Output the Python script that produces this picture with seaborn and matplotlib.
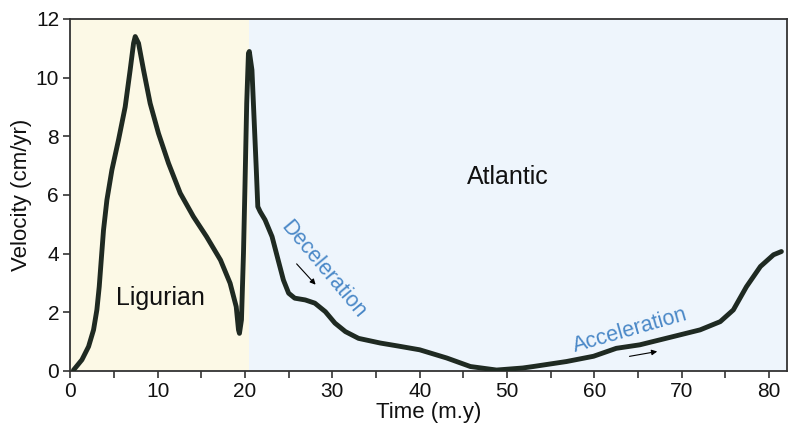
"""Velocity through time: Ligurian and Atlantic phases."""

import numpy as np
import pandas as pd
import matplotlib
import matplotlib.pyplot as plt
from matplotlib.ticker import MultipleLocator
import seaborn as sns

matplotlib.use("Agg")

# values
time_my = [0.38, 1.34, 2.1, 2.67, 3.05, 3.32, 3.55, 3.81, 4.2, 4.77, 5.53,
           6.29, 6.86, 7.25, 7.44, 7.82, 8.39, 9.15, 10.1, 11.25, 12.59,
           14.1, 15.6, 17.2, 18.3, 19.0, 19.26, 19.37, 19.6, 19.83, 20.0,
           20.2, 20.4, 20.5, 20.8, 21.05, 21.3, 21.47, 21.74, 22.3, 23.1,
           23.8, 24.4, 25.0, 25.7, 26.9, 28.0, 29.2, 30.3, 31.5, 33.0,
           35.5, 37.5, 40.0, 43.1, 45.8, 48.8, 51.8, 53.0, 56.8, 59.9,
           62.5, 65.2, 69.0, 72.1, 74.4, 75.9, 77.4, 79.0, 80.5, 81.4]
velocity = [0.03, 0.38, 0.83, 1.4, 2.08, 2.87, 3.78, 4.8, 5.83, 6.85, 7.88,
            9.0, 10.26, 11.17, 11.4, 11.17, 10.26, 9.12, 8.1, 7.08, 6.06,
            5.26, 4.58, 3.78, 2.99, 2.19, 1.4, 1.28, 1.74, 4.0, 6.28,
            9.12, 10.83, 10.89, 10.26, 8.56, 6.85, 5.6, 5.43, 5.15, 4.58,
            3.78, 3.1, 2.65, 2.48, 2.42, 2.31, 2.02, 1.63, 1.34, 1.11,
            0.95, 0.85, 0.72, 0.44, 0.15, 0.03, 0.1, 0.15, 0.32, 0.5,
            0.77, 0.89, 1.17, 1.40, 1.68, 2.08, 2.87, 3.56, 3.96, 4.07]

phase_names = ["Ligurian", "Atlantic"]
phase_bounds = [(0, 20.5), (20.5, 82)]
phase_colors = ["#fcf9e6", "#eef5fc"]
phase_label_pos = [(10.3, 2.5), (50.1, 6.6)]

trend_names = ["Deceleration", "Acceleration"]
trend_label_pos = [(28.9, 3.45), (64.1, 1.38)]
trend_rotation = [-50, 16]
trend_arrows = [((25.7, 3.72), (28.3, 2.87)), ((63.7, 0.48), (67.5, 0.68))]

LINE_COLOR = "#1f2a22"
TEXT_BLUE = "#4a88c7"
TEXT_DARK = "#111111"


def main() -> None:
    sns.set_style("ticks")
    plt.rcParams["font.family"] = ["Liberation Sans", "DejaVu Sans"]

    df = pd.DataFrame({"Time": time_my, "Velocity": velocity})

    fig = plt.figure(figsize=(7.89, 4.40), dpi=100)
    ax = fig.add_axes([0.089, 0.157, 0.908, 0.8])

    for (x0, x1), color in zip(phase_bounds, phase_colors):
        ax.axvspan(x0, x1, color=color, lw=0, zorder=0)

    sns.lineplot(data=df, x="Time", y="Velocity", ax=ax, color=LINE_COLOR,
                 linewidth=3.5, sort=False, zorder=3)
    ax.lines[-1].set_solid_joinstyle("round")
    ax.lines[-1].set_solid_capstyle("round")

    for name, (x, y) in zip(phase_names, phase_label_pos):
        ax.text(x, y, name, ha="center", va="center", fontsize=18, color=TEXT_DARK)

    for name, (x, y), rot in zip(trend_names, trend_label_pos, trend_rotation):
        ax.text(x, y, name, ha="center", va="center", fontsize=15.5,
                color=TEXT_BLUE, rotation=rot, rotation_mode="anchor")

    for start, end in trend_arrows:
        ax.annotate("", xy=end, xytext=start,
                    arrowprops=dict(arrowstyle="-|>", color="black", lw=0.8,
                                    mutation_scale=8))

    ax.set_xlim(0, 82)
    ax.set_ylim(0, 12)
    ax.xaxis.set_major_locator(MultipleLocator(10))
    ax.xaxis.set_minor_locator(MultipleLocator(5))
    ax.yaxis.set_major_locator(MultipleLocator(2))
    ax.tick_params(axis="both", which="both", direction="out", length=5,
                   width=1.2, color="#333333", labelsize=15, pad=3,
                   labelcolor=TEXT_DARK)
    ax.set_xlabel("Time (m.y)", fontsize=16, labelpad=1, color=TEXT_DARK)
    ax.set_ylabel("Velocity (cm/yr)", fontsize=16, labelpad=3, color=TEXT_DARK)
    for spine in ax.spines.values():
        spine.set_color("#333333")
        spine.set_linewidth(1.3)

    fig.savefig("out.png", dpi=100)
    plt.close(fig)


if __name__ == "__main__":
    main()
